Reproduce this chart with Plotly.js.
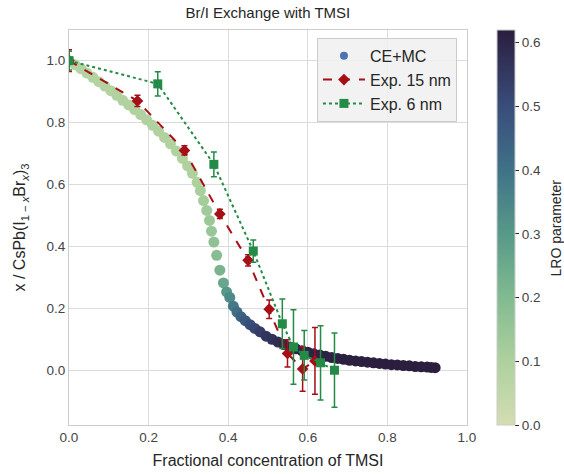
<!DOCTYPE html>
<html>
<head>
<meta charset="utf-8">
<script src="https://cdn.plot.ly/plotly-3.0.1.min.js"></script>
<style>html,body{margin:0;padding:0;background:#fff;}#chart{width:564px;height:474px;}</style>
</head>
<body>
<div id="chart"></div>
<script>
// CE+MC simulation curve
const mcX = [0, 0.015, 0.03, 0.045, 0.06, 0.075, 0.09, 0.105, 0.12, 0.135, 0.15, 0.165, 0.18, 0.195, 0.21, 0.225, 0.24, 0.255, 0.27, 0.285, 0.298, 0.31, 0.322,
  0.33, 0.338, 0.346, 0.353, 0.358, 0.364, 0.371, 0.379, 0.388, 0.396, 0.404, 0.413, 0.422, 0.432, 0.443, 0.455, 0.467, 0.48, 0.495, 0.51, 0.525, 0.54, 0.555,
  0.57, 0.585, 0.6, 0.615, 0.63, 0.645, 0.66, 0.675, 0.69, 0.705, 0.72, 0.735, 0.75, 0.765, 0.78, 0.795, 0.81, 0.825, 0.84, 0.855, 0.87, 0.885, 0.9, 0.91, 0.92];
const mcY = [1.0, 0.987, 0.974, 0.96, 0.946, 0.932, 0.918, 0.903, 0.888, 0.872, 0.857, 0.842, 0.826, 0.809, 0.791, 0.772, 0.752, 0.731, 0.708, 0.684, 0.66, 0.636, 0.607,
  0.58, 0.548, 0.516, 0.484, 0.449, 0.414, 0.371, 0.323, 0.282, 0.253, 0.235, 0.207, 0.188, 0.173, 0.16, 0.147, 0.135, 0.124, 0.11, 0.1, 0.091, 0.083, 0.075,
  0.069, 0.063, 0.058, 0.053, 0.049, 0.045, 0.041, 0.038, 0.035, 0.032, 0.03, 0.028, 0.026, 0.024, 0.022, 0.02, 0.018, 0.017, 0.015, 0.014, 0.012, 0.011, 0.01, 0.009, 0.008];
const mcLRO = [0.08, 0.08, 0.08, 0.08, 0.085, 0.085, 0.085, 0.085, 0.09, 0.09, 0.09, 0.09, 0.09, 0.09, 0.09, 0.09, 0.09, 0.095, 0.095, 0.095, 0.1, 0.1, 0.1,
  0.11, 0.12, 0.13, 0.14, 0.15, 0.17, 0.19, 0.22, 0.26, 0.3, 0.34, 0.38, 0.41, 0.44, 0.47, 0.5, 0.52, 0.54, 0.56, 0.57, 0.58, 0.59, 0.6,
  0.6, 0.6, 0.605, 0.605, 0.61, 0.61, 0.61, 0.61, 0.615, 0.615, 0.615, 0.615, 0.615, 0.615, 0.62, 0.62, 0.62, 0.62, 0.62, 0.62, 0.62, 0.62, 0.62, 0.62, 0.62];

// Experiment, 15 nm
const exp15X = [0, 0.172, 0.29, 0.379, 0.45, 0.503, 0.549, 0.587, 0.618];
const exp15Y = [1.0, 0.87, 0.71, 0.505, 0.355, 0.197, 0.054, 0.004, 0.03];
const exp15Err = [0.035, 0.018, 0.015, 0.015, 0.018, 0.03, 0.044, 0.072, 0.108];

// Experiment, 6 nm
const exp6X = [0, 0.223, 0.364, 0.463, 0.536, 0.564, 0.591, 0.632, 0.667];
const exp6Y = [1.0, 0.925, 0.665, 0.385, 0.15, 0.075, 0.048, 0.024, 0.0];
const exp6Err = [0.03, 0.039, 0.04, 0.036, 0.08, 0.12, 0.08, 0.12, 0.12];

const lroTicks = [0, 0.1, 0.2, 0.3, 0.4, 0.5, 0.6];
const axisTicks = [0, 0.2, 0.4, 0.6, 0.8, 1.0];

const cscale = [
  [0.0, '#d3ddb2'],
  [0.16, '#aed19e'],
  [0.32, '#82bb90'],
  [0.48, '#589a89'],
  [0.65, '#3f7187'],
  [0.81, '#394c7a'],
  [1.0, '#2b1e3e']
];

const font = 'Liberation Sans, Arial, sans-serif';
const txt = '#262626';

const traces = [
  {
    x: [null], y: [null], type: 'scatter', mode: 'markers', name: 'CE+MC',
    marker: {color: '#4c72b0', size: 8}, showlegend: true, hoverinfo: 'skip'
  },
  {
    x: mcX, y: mcY, type: 'scatter', mode: 'markers', name: 'CE+MC', showlegend: false,
    marker: {
      color: mcLRO, colorscale: cscale, cmin: 0, cmax: 0.62, size: 11, opacity: 1,
      line: {width: 0},
      showscale: true,
      colorbar: {
        x: 1.075, xanchor: 'left', xpad: 0, y: 0, yanchor: 'bottom', ypad: 0, len: 1, lenmode: 'fraction',
        thickness: 18, outlinecolor: '#cccccc', outlinewidth: 1,
        ticks: 'outside', ticklen: 4, tickwidth: 1, tickcolor: txt,
        tickvals: lroTicks, tickformat: '.1f',
        tickfont: {family: font, size: 13.5, color: '#444'}
      }
    }
  },
  {
    x: exp15X, y: exp15Y, type: 'scatter', mode: 'lines+markers', name: 'Exp. 15 nm',
    line: {color: '#a50f15', width: 2, dash: 'dash'},
    marker: {color: '#a50f15', symbol: 'diamond', size: 9},
    error_y: {type: 'data', array: exp15Err, visible: true, color: '#a50f15', thickness: 1.5, width: 3}
  },
  {
    x: exp6X, y: exp6Y, type: 'scatter', mode: 'lines+markers', name: 'Exp. 6 nm',
    line: {color: '#238b45', width: 2, dash: 'dot'},
    marker: {color: '#238b45', symbol: 'square', size: 9},
    error_y: {type: 'data', array: exp6Err, visible: true, color: '#238b45', thickness: 1.5, width: 3}
  }
];

const layout = {
  width: 564, height: 474,
  margin: {l: 69, r: 97, t: 30, b: 49, autoexpand: false},
  paper_bgcolor: '#ffffff', plot_bgcolor: '#ffffff',
  font: {family: font, size: 12, color: txt},
  title: {text: 'Br/I Exchange with TMSI', x: 0.475, xanchor: 'center', y: 0.973, yanchor: 'middle',
          font: {family: font, size: 15, color: txt}},
  xaxis: {
    range: [0, 1], tickvals: axisTicks, tickformat: '.1f',
    showgrid: true, gridcolor: '#dcdcdc', gridwidth: 1,
    showline: true, mirror: true, linecolor: '#cccccc', linewidth: 1,
    zeroline: false, ticks: '', tickfont: {family: font, size: 13.5, color: '#444'},
    automargin: false,
    title: {text: 'Fractional concentration of TMSI', standoff: 10, font: {family: font, size: 16, color: txt}}
  },
  yaxis: {
    range: [-0.177, 1.099], tickvals: axisTicks, tickformat: '.1f',
    showgrid: true, gridcolor: '#dcdcdc', gridwidth: 1,
    showline: true, mirror: true, linecolor: '#cccccc', linewidth: 1,
    zeroline: false, ticks: '', tickfont: {family: font, size: 13.5, color: '#444'},
    automargin: false,
    title: {text: 'x / CsPb(I<sub>1 \u2212 <i>x</i></sub>Br<sub><i>x</i></sub>)<sub>3</sub>', standoff: 16,
            font: {family: font, size: 16, color: txt}}
  },
  legend: {
    x: 0.623, y: 0.98, xanchor: 'left', yanchor: 'top',
    bgcolor: 'rgba(240,240,240,0.85)', bordercolor: '#cccccc', borderwidth: 1,
    font: {family: font, size: 16, color: txt}, itemwidth: 42, tracegroupgap: 2
  },
  annotations: [
    {text: 'LRO parameter', xref: 'paper', yref: 'paper', x: 1.2236, y: 0.5,
     xanchor: 'center', yanchor: 'middle', textangle: -90, showarrow: false,
     font: {family: font, size: 14, color: txt}}
  ],
  showlegend: true
};

Plotly.newPlot('chart', traces, layout, {displayModeBar: false, staticPlot: true});
</script>
</body>
</html>
